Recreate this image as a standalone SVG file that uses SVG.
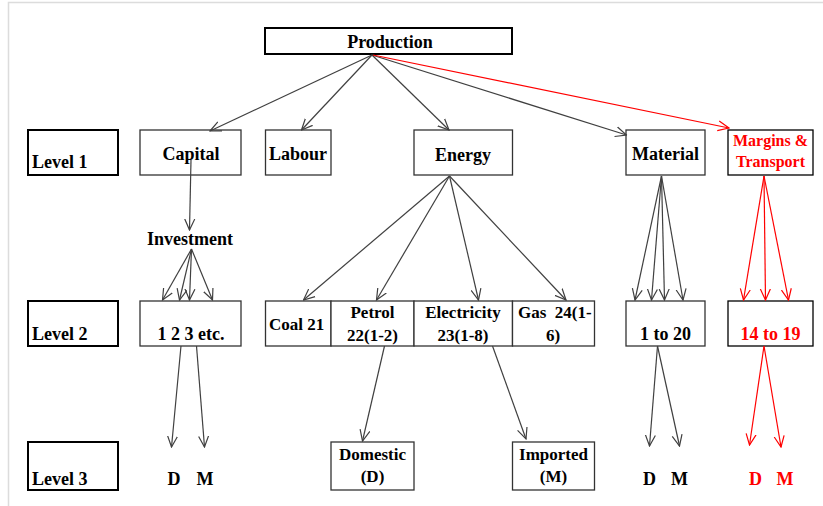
<svg xmlns="http://www.w3.org/2000/svg" width="823" height="506" viewBox="0 0 823 506">
<style>
text{font-family:"Liberation Serif","Times New Roman",serif;font-weight:bold;font-size:18px;fill:#000}
.c{text-anchor:middle}
.s{font-size:17px}
.r{fill:#ff0000}
.box{fill:#fff;stroke:#333;stroke-width:1.3}
.thick{fill:#fff;stroke:#000;stroke-width:2}
.rbox{fill:#fff;stroke:#000;stroke-width:1.3}
.e{fill:none;stroke:#404040;stroke-width:1.2;marker-end:url(#ah)}
.er{fill:none;stroke:#ff0000;stroke-width:1.2;marker-end:url(#ahr)}
</style>
<defs>
<marker id="ah" markerUnits="userSpaceOnUse" markerWidth="12" markerHeight="12" refX="11" refY="5" orient="auto" viewBox="0 0 12 10">
<path d="M0,0 L11,5 L0,10" fill="none" stroke="#404040" stroke-width="1.2"/>
</marker>
<marker id="ahr" markerUnits="userSpaceOnUse" markerWidth="12" markerHeight="12" refX="11" refY="5" orient="auto" viewBox="0 0 12 10">
<path d="M0,0 L11,5 L0,10" fill="none" stroke="#ff0000" stroke-width="1.2"/>
</marker>
</defs>
<rect width="823" height="506" fill="#fff"/>
<path d="M8.5,506 V2.5 H823" fill="none" stroke="#dcdcdc" stroke-width="1.5"/>

<g id="production"><rect class="thick" x="265" y="28" width="247" height="26"/><text class="c" x="390" y="48">Production</text></g>

<g id="level1"><rect class="thick" x="28" y="130" width="90" height="45"/><text x="32" y="168">Level 1</text></g>
<g id="level2"><rect class="thick" x="28" y="301" width="90" height="45"/><text x="32" y="340">Level 2</text></g>
<g id="level3"><rect class="thick" x="28" y="442" width="90" height="48"/><text x="32" y="485">Level 3</text></g>

<g id="capital"><rect class="box" x="140" y="130" width="101" height="45"/><text class="c" x="191" y="160">Capital</text></g>
<g id="labour"><rect class="box" x="265.5" y="130" width="65.5" height="45"/><text x="269" y="160">Labour</text></g>
<g id="energy"><rect class="box" x="414" y="130" width="98.5" height="45"/><text class="c" x="463" y="161">Energy</text></g>
<g id="material"><rect class="box" x="626" y="130" width="79" height="45"/><text class="c" x="665.5" y="160">Material</text></g>
<g id="margins"><rect class="rbox" x="728" y="130" width="85" height="45"/><text class="c r" x="770.5" y="146" style="font-size:16px">Margins &amp;</text><text class="c r" x="770.5" y="167" style="font-size:16px">Transport</text></g>

<g id="investment"><text class="c" x="190" y="245">Investment</text></g>

<g id="capital-items"><rect class="box" x="140" y="301" width="101" height="45"/><text class="c" x="191" y="340">1 2 3 etc.</text></g>
<g id="coal"><rect class="box" x="265.5" y="301" width="65.5" height="45"/><text class="s" x="269" y="330">Coal 21</text></g>
<g id="petrol"><rect class="box" x="331" y="301" width="83" height="45"/><text class="c s" x="372.5" y="318">Petrol</text><text class="c s" x="372.5" y="341">22(1-2)</text></g>
<g id="electricity"><rect class="box" x="414" y="301" width="98.5" height="45"/><text class="c s" x="463" y="318">Electricity</text><text class="c s" x="463" y="341">23(1-8)</text></g>
<g id="gas"><rect class="box" x="512.5" y="301" width="82" height="45"/><text class="s" x="518" y="318" style="white-space:pre">Gas  24(1-</text><text class="c s" x="553" y="341">6)</text></g>
<g id="material-items"><rect class="box" x="626" y="301" width="79" height="45"/><text class="c" x="665.5" y="340">1 to 20</text></g>
<g id="margins-items"><rect class="rbox" x="728" y="301" width="85" height="45"/><text class="c r" x="770.5" y="340">14 to 19</text></g>

<g id="domestic"><rect class="box" x="331" y="442" width="83" height="48"/><text class="c s" x="372.5" y="460">Domestic</text><text class="c s" x="372.5" y="482">(D)</text></g>
<g id="imported"><rect class="box" x="512.5" y="442" width="82" height="48"/><text class="c s" x="553.5" y="460">Imported</text><text class="c s" x="553.5" y="482">(M)</text></g>

<g id="cap-dm"><text class="c" x="174" y="485">D</text><text class="c" x="205" y="485">M</text></g>
<g id="mat-dm"><text class="c" x="649.5" y="485">D</text><text class="c" x="679.5" y="485">M</text></g>
<g id="mar-dm"><text class="c r" x="755.5" y="485">D</text><text class="c r" x="785" y="485">M</text></g>

<g id="connectors">
<path class="e" d="M372,55 L210,131"/>
<path class="e" d="M372,55 L301.5,130"/>
<path class="e" d="M372,55 L449,130"/>
<path class="e" d="M372,55 L626.5,135"/>
<path class="er" d="M373,55 L729,128"/>
<path class="e" d="M191,160 L189.5,230"/>
<path class="e" d="M191.5,249 L162.5,300"/>
<path class="e" d="M191.5,249 L179.5,300"/>
<path class="e" d="M191.5,249 L189.5,300"/>
<path class="e" d="M191.5,249 L212.5,300"/>
<path class="e" d="M449.5,176 L303.5,300"/>
<path class="e" d="M449.5,176 L376.5,300"/>
<path class="e" d="M449.5,176 L478.5,300"/>
<path class="e" d="M449.5,176 L566,300"/>
<path class="e" d="M661.5,176 L635,300"/>
<path class="e" d="M661.5,176 L651.5,300"/>
<path class="e" d="M661.5,176 L664.5,300"/>
<path class="e" d="M661.5,176 L683,300"/>
<path class="er" d="M764,176 L743.5,300"/>
<path class="er" d="M764,176 L765.5,300"/>
<path class="er" d="M764,176 L788.5,300"/>
<path class="e" d="M181,346 L171.5,447"/>
<path class="e" d="M196.5,346 L204.5,447"/>
<path class="e" d="M384.5,346 L362.5,441"/>
<path class="e" d="M492.5,346 L526,439"/>
<path class="e" d="M657.5,346 L649.5,446"/>
<path class="e" d="M657.5,346 L679.5,446"/>
<path class="er" d="M764,346 L749.5,445"/>
<path class="er" d="M764,346 L781,447"/>
</g>
</svg>
